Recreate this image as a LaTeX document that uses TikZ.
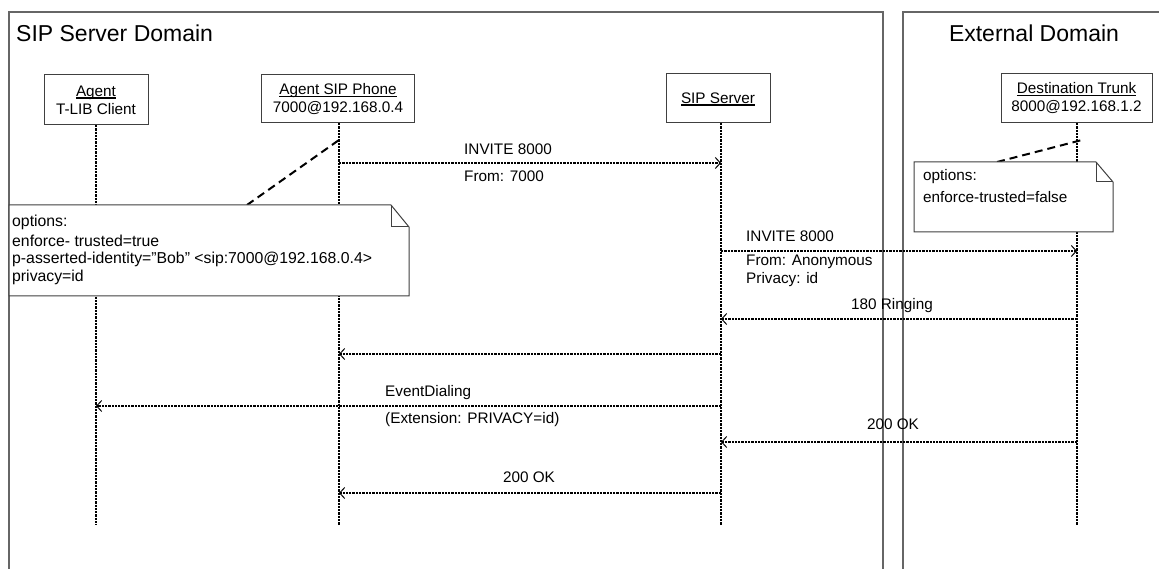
\documentclass[tikz,border=0pt]{standalone}
\usepackage{fontspec}
\setmainfont{Liberation Sans}
\usetikzlibrary{arrows.meta}
\newcommand\myul[1]{\setbox0\hbox{#1}\rlap{\rule[-2.5pt]{\wd0}{1.3pt}}\box0}
\begin{document}
\begin{tikzpicture}[x=1pt,y=-1pt,
  frame/.style={draw=black!60,line width=1.1pt},
  headbox/.style={draw=black!75,line width=1pt,fill=white,align=center,inner sep=0pt,
    font=\fontsize{15.3}{18}\selectfont},
  lifeline/.style={line width=2.1pt,dash pattern=on 2.3pt off 1pt},
  msg/.style={lifeline,-{Straight Barb[line width=1pt,length=5pt,width=11pt]}},
  lbl/.style={font=\fontsize{15.3}{18}\selectfont,inner sep=0pt},
  notebox/.style={draw=black!75,line width=1pt,fill=white},
  notetxt/.style={inner sep=0pt,anchor=west},
  notelink/.style={line width=2pt,dash pattern=on 8pt off 5pt},
  title/.style={font=\fontsize{23}{26}\selectfont,inner sep=0pt}]
\useasboundingbox (0,0) rectangle (1159,569);
% domain frames
\draw[frame] (9,600) -- (9,12) -- (883,12) -- (883,600);
\draw[frame] (903,600) -- (903,12) -- (1170,12);
\node[title,anchor=west] (tsip) at (16,33) {SIP Server Domain};
\node[title] (text) at (1034,33) {External Domain};
% heads
\node[headbox,minimum width=104pt,minimum height=50pt] (agent) at (96,100) {\myul{Agent}\\T-LIB Client};
\node[headbox,minimum width=153pt,minimum height=48pt] (phone) at (338,99) {\myul{Agent SIP Phone}\\7000@192.168.0.4};
\node[headbox,minimum width=104pt,minimum height=49pt] (server) at (718,98.5) {};
\node[font=\fontsize{15.3}{18}\selectfont,inner sep=0pt] (servertxt) at (718,99) {\myul{SIP Server}};
\node[headbox,minimum width=151pt,minimum height=49pt] (trunk) at (1076.5,98.5) {\myul{Destination Trunk}\\8000@192.168.1.2};
% lifeline ends
\coordinate (agentS) at (96,125);
\coordinate (phoneS) at (339,123);
\coordinate (serverS) at (721,123);
\coordinate (trunkS) at (1077,123);
\coordinate (agentE) at (96,525);
\coordinate (phoneE) at (339,525);
\coordinate (serverE) at (721,525);
\coordinate (trunkE) at (1077,525);
\draw[lifeline] (agentS) -- (agentE);
\draw[lifeline] (phoneS) -- (phoneE);
\draw[lifeline] (serverS) -- (serverE);
\draw[lifeline] (trunkS) -- (trunkE);
% message points
\coordinate (p1) at (339,163); \coordinate (s1) at (721,163);
\coordinate (s2) at (721,251); \coordinate (t2) at (1077,251);
\coordinate (t3) at (1077,319); \coordinate (s3) at (721,319);
\coordinate (s4) at (721,354); \coordinate (p4) at (339,354);
\coordinate (s5) at (721,406); \coordinate (a5) at (96,406);
\coordinate (t6) at (1077,442); \coordinate (s6) at (721,442);
\coordinate (s7) at (721,493); \coordinate (p7) at (339,493);
\draw[msg] (p1) -- (s1);
\draw[msg] (s2) -- (t2);
\draw[msg] (t3) -- (s3);
\draw[msg] (s4) -- (p4);
\draw[msg] (s5) -- (a5);
\draw[msg] (t6) -- (s6);
\draw[msg] (s7) -- (p7);
% labels
\node[lbl,anchor=west] (l1a) at (464,149) {INVITE 8000};
\node[lbl,anchor=west] (l1b) at (464,176) {From: 7000};
\node[lbl,anchor=west] (l2a) at (746,236) {INVITE 8000};
\node[lbl,anchor=west] (l2b) at (746,262) {From: Anonymous};
\node[lbl,anchor=west] (l2c) at (746,280) {Privacy: id};
\node[lbl] (l3) at (892,306) {180 Ringing};
\node[lbl,anchor=west] (l5a) at (385,393) {EventDialing};
\node[lbl,anchor=west] (l5b) at (385,420) {(Extension: PRIVACY=id)};
\node[lbl] (l6) at (893,424) {200 OK};
\node[lbl] (l7) at (529,477) {200 OK};
% note 1
\coordinate (n1a) at (247,205);
\coordinate (n1b) at (339,140);
\draw[notelink] (n1a) -- (n1b);
\draw[notebox] (9,205) -- (391,205) -- (409,227) -- (409,296) -- (9,296) -- cycle;
\draw[draw=black!75,line width=1pt] (391,205) -- (391,227) -- (409,227);
\begin{scope}[font=\fontsize{15.8}{18}\selectfont]
\node[notetxt] (n1l1) at (12,222) {options:};
\node[notetxt] (n1l2) at (12,241) {enforce- trusted=true};
\node[notetxt] (n1l3) at (12,259) {p-asserted-identity=\char"22 Bob\char"22\ <sip:7000@192.168.0.4>};
\node[notetxt] (n1l4) at (12,277) {privacy=id};
\end{scope}
% note 2
\coordinate (n2a) at (997,162);
\coordinate (n2b) at (1082,140);
\draw[notelink] (n2a) -- (n2b);
\draw[notebox] (914,162) -- (1096,162) -- (1113,182) -- (1113,232) -- (914,232) -- cycle;
\draw[draw=black!75,line width=1pt] (1096,162) -- (1096,182) -- (1113,182);
\begin{scope}[font=\fontsize{15.3}{18}\selectfont]
\node[notetxt] (n2l1) at (923,177) {options:};
\node[notetxt] (n2l2) at (923,197) {enforce-trusted=false};
\end{scope}
\end{tikzpicture}
\end{document}
